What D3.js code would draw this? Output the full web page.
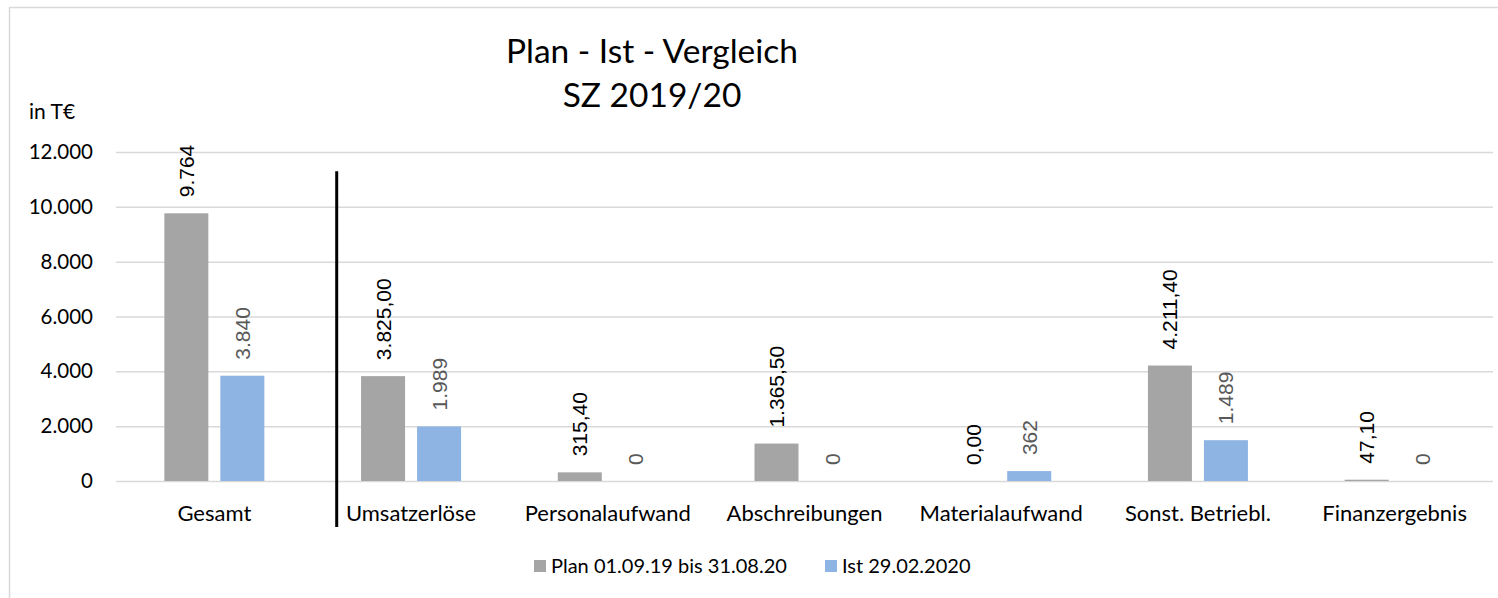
<!DOCTYPE html>
<html>
<head>
<meta charset="utf-8">
<script src="https://cdn.jsdelivr.net/npm/d3@7"></script>
<style>
  body { margin: 0; background: #fff; }
  svg { display: block; }
</style>
</head>
<body>
<svg id="chart"></svg>
<script>
const categories = ["Gesamt", "Umsatzerlöse", "Personalaufwand", "Abschreibungen", "Materialaufwand", "Sonst. Betriebl.", "Finanzergebnis"];
const planValues = [9764, 3825, 315.4, 1365.5, 0, 4211.4, 47.1];
const istValues = [3840, 1989, 0, 0, 362, 1489, 0];
const planDecimals = [0, 2, 2, 2, 2, 2, 2];
const yTicks = [0, 2000, 4000, 6000, 8000, 10000, 12000];
const seriesNames = ["Plan 01.09.19 bis 31.08.20", "Ist 29.02.2020"];
const titleLines = ["Plan - Ist - Vergleich", "SZ 2019/20"];
const unitLabel = "in T€";

const width = 1498;
const height = 598;
const margin = { top: 152, right: 5, bottom: 117, left: 116 };
const colors = { plan: "#a5a5a5", ist: "#8eb4e3" };
const font = "Lato, 'Noto Sans', sans-serif";
const labelFont = "'Liberation Sans', Arial, sans-serif";

const de = d3.formatLocale({ decimal: ",", thousands: ".", grouping: [3], currency: ["", "€"] });

const svg = d3.select("#chart").attr("width", width).attr("height", height);

// chart frame
svg.append("rect")
  .attr("x", 9.5).attr("y", 7.5)
  .attr("width", width + 20).attr("height", height + 20)
  .attr("fill", "#fff")
  .attr("stroke", "#d9d9d9")
  .attr("stroke-width", 1.5);

// Scales
const xScale = d3.scaleBand()
  .domain(categories)
  .range([margin.left, width - margin.right])
  .padding(0);

const inner = d3.scaleBand()
  .domain(["plan", "ist"])
  .range([(xScale.bandwidth() - 100) / 2, (xScale.bandwidth() + 100) / 2])
  .paddingInner(12 / 56);

const yScale = d3.scaleLinear()
  .domain([0, 12000])
  .range([height - margin.bottom, margin.top]);

// y axis with gridlines
const yAxis = svg.append("g")
  .attr("transform", `translate(${margin.left},0)`)
  .call(d3.axisLeft(yScale)
    .tickValues(yTicks)
    .tickSize(-(width - margin.right - margin.left))
    .tickPadding(23)
    .tickFormat(de.format(",.0f")));
yAxis.select(".domain").remove();
yAxis.selectAll("line").attr("stroke", "#d9d9d9").attr("stroke-width", 1.5);
yAxis.selectAll("text")
  .attr("fill", "#000")
  .style("font-family", font)
  .style("font-size", "20.5px");

// x axis labels
const xAxis = svg.append("g")
  .attr("transform", `translate(0,${height - margin.bottom})`)
  .call(d3.axisBottom(xScale).tickSize(0).tickPadding(24));
xAxis.select(".domain").remove();
xAxis.selectAll("text")
  .attr("fill", "#000")
  .style("font-family", font)
  .style("font-size", "22px");

// Bars
const rows = categories.map((c, i) => ({ cat: c, i, plan: planValues[i], ist: istValues[i] }));

const groups = svg.append("g").selectAll("g")
  .data(rows)
  .join("g")
  .attr("transform", (d) => `translate(${xScale(d.cat)},0)`);

["plan", "ist"].forEach((key) => {
  groups.append("rect")
    .attr("x", inner(key))
    .attr("width", inner.bandwidth())
    .attr("y", (d) => yScale(d[key]))
    .attr("height", (d) => yScale(0) - yScale(d[key]))
    .attr("fill", colors[key]);

  groups.append("text")
    .attr("transform", (d) => `translate(${inner(key) + inner.bandwidth() / 2},${yScale(d[key]) - 16}) rotate(-90)`)
    .attr("dy", "0.36em")
    .attr("fill", key === "plan" ? "#000" : "#595959")
    .style("font-family", labelFont)
    .style("font-size", "21px")
    .text((d) => key === "plan"
      ? de.format(`,.${planDecimals[d.i]}f`)(d.plan)
      : de.format(",.0f")(d.ist));
});

// separator line between Gesamt and details
svg.append("line")
  .attr("x1", xScale(categories[1]) + 24)
  .attr("x2", xScale(categories[1]) + 24)
  .attr("y1", yScale(11300))
  .attr("y2", height - 71)
  .attr("stroke", "#000")
  .attr("stroke-width", 3);

// Title
svg.append("text")
  .attr("x", 652)
  .attr("y", 63)
  .attr("text-anchor", "middle")
  .style("font-family", font)
  .style("font-size", "33.5px")
  .selectAll("tspan")
  .data(titleLines)
  .join("tspan")
  .attr("x", 652)
  .attr("dy", (d, i) => (i === 0 ? 0 : 44))
  .text((d) => d);

// unit label
svg.append("text")
  .attr("x", 29)
  .attr("y", 119)
  .style("font-family", font)
  .style("font-size", "21px")
  .text(unitLabel);

// Legend
const legend = svg.append("g").attr("transform", `translate(534, 566)`);
const legendData = [
  { label: seriesNames[0], color: colors.plan, x: 0 },
  { label: seriesNames[1], color: colors.ist, x: 291 },
];
legendData.forEach((d) => {
  const row = legend.append("g").attr("transform", `translate(${d.x},0)`);
  row.append("rect")
    .attr("x", 0).attr("y", -6)
    .attr("width", 12).attr("height", 12)
    .attr("fill", d.color);
  row.append("text")
    .attr("x", 17)
    .attr("dy", "0.36em")
    .style("font-family", font)
    .style("font-size", "20px")
    .text(d.label);
});
</script>
</body>
</html>
